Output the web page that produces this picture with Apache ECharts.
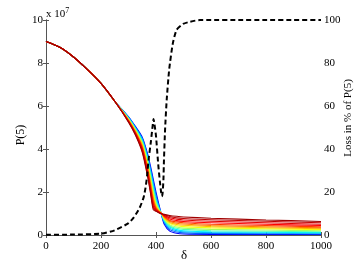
<!DOCTYPE html>
<html>
<head>
<meta charset="utf-8">
<script src="https://cdn.jsdelivr.net/npm/echarts@6/dist/echarts.min.js"></script>
<style>html,body{margin:0;padding:0;background:#fff}#c{width:354px;height:267px}</style>
</head>
<body>
<div id="c"></div>
<script>
// ---- data (P(5) in units of 1e7, loss in %) ----
const headX = [0, 50, 100, 150, 200, 250];
const headP = [9.0, 8.73, 8.28, 7.7, 7.05, 6.22];
const tailX = [300, 325, 350, 370, 380, 390, 400, 410, 420, 430, 450, 475, 500, 600, 800, 1000];
const curve01 = [5.5, 5.05, 4.55, 3.75, 3.2, 2.6, 2.0, 1.45, 0.93, 0.5, 0.18, 0.08, 0.05, 0.03, 0.025, 0.02];
const curve02 = [5.48, 5.02, 4.5, 3.67, 3.1, 2.48, 1.87, 1.38, 0.95, 0.57, 0.25, 0.14, 0.1, 0.07, 0.06, 0.05];
const curve03 = [5.46, 4.99, 4.45, 3.59, 3.0, 2.36, 1.75, 1.32, 0.96, 0.62, 0.31, 0.2, 0.15, 0.11, 0.095, 0.08];
const curve04 = [5.44, 4.96, 4.39, 3.5, 2.9, 2.24, 1.64, 1.27, 0.97, 0.66, 0.37, 0.25, 0.2, 0.15, 0.13, 0.11];
const curve05 = [5.42, 4.93, 4.34, 3.42, 2.8, 2.12, 1.55, 1.23, 0.98, 0.7, 0.42, 0.31, 0.26, 0.2, 0.175, 0.15];
const curve06 = [5.4, 4.9, 4.28, 3.34, 2.7, 2.01, 1.47, 1.19, 0.99, 0.73, 0.47, 0.37, 0.32, 0.26, 0.23, 0.2];
const curve07 = [5.38, 4.87, 4.23, 3.26, 2.6, 1.9, 1.4, 1.16, 1.0, 0.77, 0.53, 0.43, 0.39, 0.33, 0.29, 0.25];
const curve08 = [5.36, 4.84, 4.18, 3.17, 2.5, 1.79, 1.34, 1.13, 1.0, 0.8, 0.58, 0.49, 0.45, 0.39, 0.34, 0.29];
const curve09 = [5.34, 4.8, 4.12, 3.09, 2.4, 1.68, 1.28, 1.11, 1.0, 0.83, 0.63, 0.55, 0.51, 0.44, 0.385, 0.33];
const curve10 = [5.32, 4.77, 4.07, 3.01, 2.3, 1.58, 1.23, 1.09, 1.0, 0.86, 0.68, 0.61, 0.57, 0.5, 0.44, 0.38];
const curve11 = [5.3, 4.74, 4.01, 2.93, 2.2, 1.47, 1.19, 1.07, 1.0, 0.89, 0.74, 0.67, 0.63, 0.57, 0.5, 0.44];
const curve12 = [5.28, 4.71, 3.96, 2.84, 2.1, 1.37, 1.15, 1.06, 0.99, 0.92, 0.8, 0.74, 0.7, 0.64, 0.57, 0.5];
const curve13 = [5.27, 4.68, 3.9, 2.76, 2.02, 1.27, 1.12, 1.05, 0.99, 0.94, 0.86, 0.8, 0.77, 0.71, 0.64, 0.57];
const curve14 = [5.25, 4.65, 3.85, 2.68, 1.95, 1.18, 1.1, 1.04, 0.99, 0.96, 0.91, 0.87, 0.84, 0.78, 0.70, 0.63];
const curves = [curve01, curve02, curve03, curve04, curve05, curve06, curve07, curve08, curve09, curve10, curve11, curve12, curve13, curve14];
const curveColors = ['#0000ff', '#0060ff', '#00b0ff', '#00f0ff', '#50ffb0', '#a0ff60', '#f0ff10', '#ffc000', '#ff8000', '#ff4000', '#ff0000', '#e00000', '#c00000', '#a00000'];

const lossX = [0, 100, 200, 250, 300, 320, 340, 355, 362, 368, 373, 381, 388, 391, 394, 400, 408, 414, 418, 421, 424, 427, 429, 433, 439, 448, 461, 475, 499, 524, 560, 600, 700, 800, 900, 1000];
const lossY = [0.1, 0.2, 0.6, 2.2, 5.5, 8.3, 12.5, 17.5, 22, 28, 35, 43, 51, 54, 52, 46, 33, 25, 20.5, 18, 19.5, 25.7, 35, 49, 63, 77, 89, 95.4, 98.2, 99.2, 100, 100, 100, 100, 100, 100];

const xLabelVals = [0, 200, 400, 600, 800, 1000];
const nameLeft = 'P(5)';
const nameRight = 'Loss in % of P(5)';
const nameBottom = 'δ';

// ---- build ----
const FONT = 'Liberation Serif';
const series = curves.map((c, i) => ({
  type: 'line',
  xAxisIndex: 0, yAxisIndex: 0,
  data: headX.map((x, k) => [x, headP[k]]).concat(tailX.map((x, k) => [x, c[k]])),
  showSymbol: false,
  smooth: 0.25,
  lineStyle: { color: curveColors[i], width: 1.1 },
  itemStyle: { color: curveColors[i] },
  z: 2 + i,
  silent: true
}));
series.push({
  type: 'line',
  xAxisIndex: 0, yAxisIndex: 1,
  data: lossX.map((x, k) => [x, lossY[k]]),
  showSymbol: false,
  smooth: 0.2,
  lineStyle: { color: '#000', width: 2, type: [5, 3] },
  z: 30,
  silent: true
});

const axisLineStyle = { color: '#555', width: 1 };
const chart = echarts.init(document.getElementById('c'), null, { renderer: 'canvas' });
chart.setOption({
  animation: false,
  backgroundColor: '#fff',
  grid: { left: 46, right: 33, top: 20, bottom: 32 },
  xAxis: [{
    type: 'value', min: 0, max: 1000, interval: 200, position: 'bottom',
    axisLine: { show: true, lineStyle: axisLineStyle },
    axisTick: { show: true, inside: true, length: 3, lineStyle: axisLineStyle },
    axisLabel: { color: '#000', fontFamily: FONT, fontSize: 11, margin: 6,
      formatter: v => (xLabelVals.indexOf(v) >= 0 ? String(v) : '') },
    splitLine: { show: false }
  }, {
    type: 'value', min: 0, max: 1000, interval: 200, position: 'top',
    axisLine: { show: true, lineStyle: axisLineStyle },
    axisTick: { show: true, inside: true, length: 3, lineStyle: axisLineStyle },
    axisLabel: { show: false },
    splitLine: { show: false }
  }],
  yAxis: [{
    type: 'value', min: 0, max: 10, interval: 2, position: 'left',
    axisLine: { show: true, lineStyle: axisLineStyle },
    axisTick: { show: true, inside: true, length: 3, lineStyle: axisLineStyle },
    axisLabel: { color: '#000', fontFamily: FONT, fontSize: 11, margin: 3 },
    splitLine: { show: false }
  }, {
    type: 'value', min: 0, max: 100, interval: 20, position: 'right',
    axisLine: { show: true, lineStyle: axisLineStyle },
    axisTick: { show: true, inside: true, length: 3, lineStyle: axisLineStyle },
    axisLabel: { color: '#000', fontFamily: FONT, fontSize: 11, margin: 3 },
    splitLine: { show: false }
  }],
  graphic: [{
    type: 'text', left: 46, top: 7,
    style: {
      text: 'x 10{sup|7}',
      fill: '#000',
      font: '11px "Liberation Serif"',
      rich: { sup: { fontSize: 8, fontFamily: FONT, verticalAlign: 'top', padding: [0, 0, 6, 0] } }
    }
  }, {
    type: 'text', x: 21, y: 135, rotation: Math.PI / 2,
    style: { text: nameLeft, fill: '#000', font: '12px "Liberation Serif"', align: 'center', verticalAlign: 'middle' }
  }, {
    type: 'text', x: 348, y: 118, rotation: Math.PI / 2,
    style: { text: nameRight, fill: '#000', font: '11px "Liberation Serif"', align: 'center', verticalAlign: 'middle' }
  }, {
    type: 'text', x: 184, y: 256,
    style: { text: nameBottom, fill: '#000', font: '13px "Liberation Serif"', align: 'center', verticalAlign: 'middle' }
  }],
  series: series
});
</script>
</body>
</html>
